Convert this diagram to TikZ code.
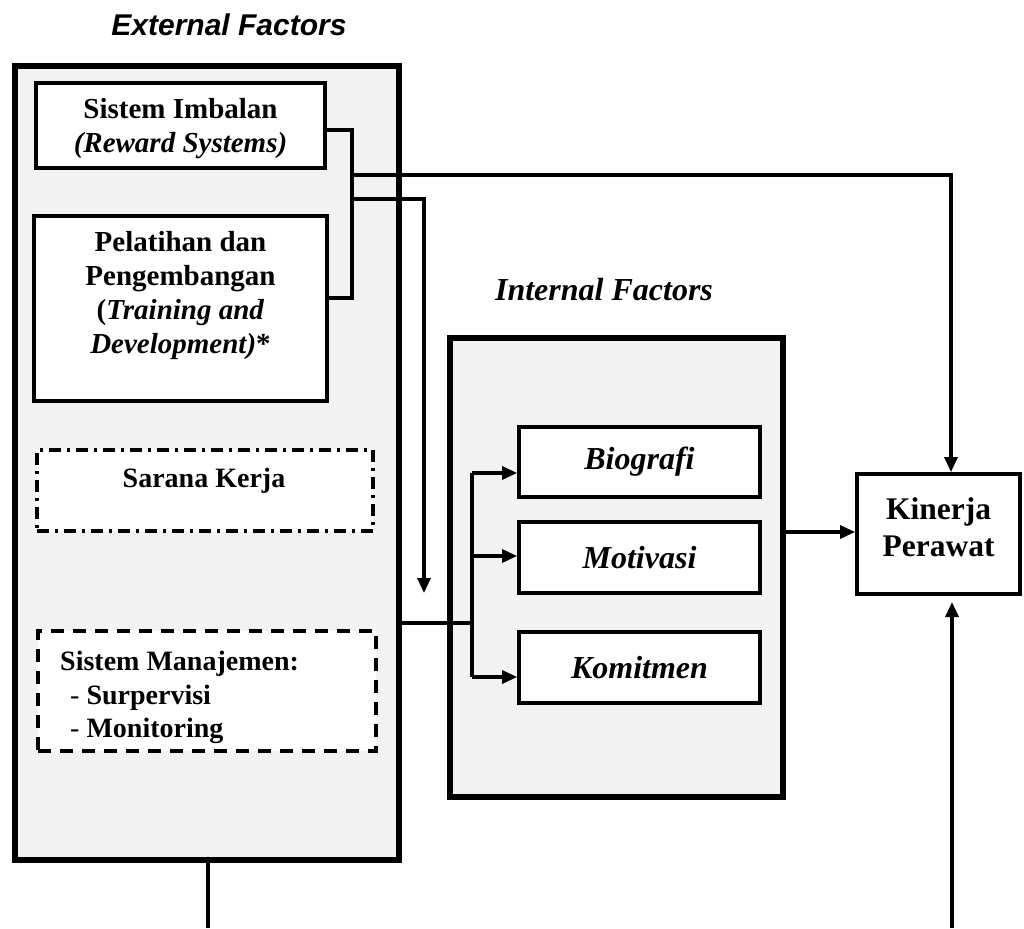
\documentclass[tikz,border=0pt]{standalone}
\usepackage{fontspec}
\setmainfont{Liberation Serif}
\newfontfamily\arialfont{Liberation Sans}
\usetikzlibrary{arrows.meta}
\definecolor{panel}{RGB}{242,242,242}
\begin{document}
\begin{tikzpicture}[x=1pt,y=-1pt,
  txt/.style={font=\fontsize{29}{34}\selectfont\bfseries, align=center, inner sep=0pt},
  panelbox/.style={draw, line width=6pt, fill=panel, inner sep=0pt},
  itembox/.style={draw, line width=3.8pt, fill=white, inner sep=0pt, align=center, font=\fontsize{32}{38}\selectfont\bfseries\itshape},
  conn/.style={line width=3.2pt},
  arr/.style={line width=3.2pt, -{Triangle[length=15pt,width=13pt]}},
]
\useasboundingbox (0,0) rectangle (1024,928);
% titles
\node[txt, font={\fontsize{30}{34}\arialfont\bfseries\itshape}] (extT) at (229,25) {External Factors};
\node[txt, font={\fontsize{32}{36}\selectfont\bfseries\itshape}] (intT) at (604,290) {Internal Factors};
% panels
\node[panelbox, minimum width=384pt, minimum height=794pt] (ext) at (207,463) {};
\node[panelbox, minimum width=333pt, minimum height=459pt] (int) at (616.5,567.5) {};
% external items
\node[itembox, minimum width=289pt, minimum height=85pt] (imb) at (180.5,125.5) {};
\node[txt] (imbT) at (180.5,129) {Sistem Imbalan\\\textit{(Reward Systems)}};
\node[itembox, minimum width=293pt, minimum height=185pt] (pel) at (180.5,308.5) {};
\node[txt] (pelT) at (180.5,296) {Pelatihan dan\\Pengembangan\\(\textit{Training and}\\\textit{Development)}*};
\node[itembox, line width=3.2pt, dash pattern=on 12pt off 6pt on 3pt off 6pt, minimum width=336pt, minimum height=81pt] (sar) at (205,490.5) {};
\node[txt, font=\fontsize{28}{33}\selectfont\bfseries] (sarT) at (204,481) {Sarana Kerja};
\node[itembox, line width=3.2pt, dash pattern=on 13pt off 9pt, minimum width=338pt, minimum height=120pt] (man) at (207,691) {};
\node[txt, font=\fontsize{28}{33.5}\selectfont\bfseries, align=left, anchor=north west] (manT) at (60,651) {Sistem Manajemen:\\\hspace*{10pt}{\mdseries -} Surpervisi\\\hspace*{10pt}{\mdseries -} Monitoring};
% internal items
\node[itembox, minimum width=241pt, minimum height=70pt] (bio) at (639.5,462) {Biografi};
\node[itembox, minimum width=241pt, minimum height=71pt] (mot) at (639.5,557.5) {Motivasi};
\node[itembox, minimum width=241pt, minimum height=71pt] (kom) at (639.5,667.5) {Komitmen};
% outcome
\node[itembox, minimum width=163pt, minimum height=120pt] (kin) at (938.5,534) {};
\node[txt, font=\fontsize{31.5}{37}\selectfont\bfseries] (kinT) at (938.5,527) {Kinerja\\Perawat};
% connectors
\coordinate (b1) at (352,130);
\coordinate (b2) at (352,298);
\draw[conn] (imb.east |- b1) -- (b1) -- (b2) -- (pel.east |- b2);
\coordinate (t1) at (352,175);
\coordinate (t2) at (951,175);
\draw[arr] (t1) -- (t2) -- (t2 |- kin.north);
\coordinate (d1) at (352,199);
\coordinate (d2) at (424,199);
\coordinate (d3) at (424,593);
\draw[arr] (d1) -- (d2) -- (d3);
\coordinate (m1) at (472,623);
\coordinate (m2) at (472,473);
\coordinate (m3) at (472,677);
\coordinate (m4) at (472,556);
\draw[conn] (ext.east |- m1) -- (m1);
\draw[conn] (m2) -- (m3);
\draw[arr] (m2) -- (bio.west |- m2);
\draw[arr] (m4) -- (mot.west |- m4);
\draw[arr] (m3) -- (kom.west |- m3);
\coordinate (o1) at (800,532);
\draw[arr] (int.east |- o1) -- (kin.west |- o1);
\coordinate (bl) at (208,928);
\draw[conn] (ext.south -| bl) -- (bl);
\coordinate (br) at (952,928);
\coordinate (bt) at (952,602);
\draw[arr] (br) -- (bt);
\end{tikzpicture}
\end{document}
